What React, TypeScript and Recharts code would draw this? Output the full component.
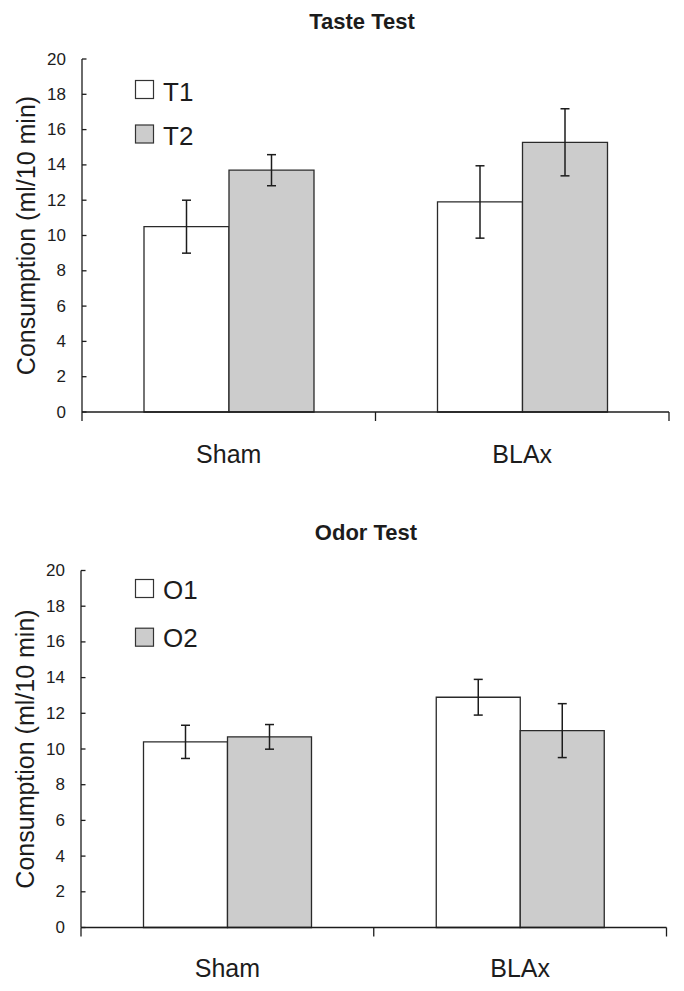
import React from 'react';
import { BarChart, Bar, XAxis, YAxis, ErrorBar, Legend } from 'recharts';

const categories = ['Sham', 'BLAx'];
const yTicks = [0, 2, 4, 6, 8, 10, 12, 14, 16, 18, 20];

const tasteSeriesNames = ['T1', 'T2'];
const tasteT1 = [10.5, 11.9];
const tasteT1Err = [1.5, 2.05];
const tasteT2 = [13.7, 15.28];
const tasteT2Err = [0.88, 1.9];

const odorSeriesNames = ['O1', 'O2'];
const odorO1 = [10.4, 12.9];
const odorO1Err = [0.93, 1.0];
const odorO2 = [10.68, 11.03];
const odorO2Err = [0.69, 1.51];

const FONT = '"Liberation Sans", Arial, Helvetica, sans-serif';
const INK = '#1c1c1c';
const GRAY = '#cccccc';

const tasteData = categories.map((c, i) => ({
  name: c,
  a: tasteT1[i],
  aErr: tasteT1Err[i],
  b: tasteT2[i],
  bErr: tasteT2Err[i],
}));

const odorData = categories.map((c, i) => ({
  name: c,
  a: odorO1[i],
  aErr: odorO1Err[i],
  b: odorO2[i],
  bErr: odorO2Err[i],
}));

type PanelProps = {
  top: number;
  title: string;
  titleX: number;
  titleY: number;
  data: any[];
  names: string[];
  marginTop: number;
  axisW: number;
  marginRight: number;
  xAxisH: number;
  catGap: number;
  labelBase: number;
  legendTop: number;
  legendStep: number;
  legendBase: number;
};

const W = 684;
const H = 480;

const YTick = (props: any) => {
  const { x, y, payload } = props;
  return (
    <g>
      <line x1={x} x2={x + 4.5} y1={y} y2={y} stroke={INK} strokeWidth={1.3} />
      <text
        x={x - 16}
        y={y}
        textAnchor="end"
        dominantBaseline="central"
        fontSize={17}
        fontFamily={FONT}
        fill={INK}
      >
        {payload.value}
      </text>
    </g>
  );
};

const makeXTick = (band: number, labelBase: number) => (props: any) => {
  const { x, y, payload, index } = props;
  const left = x - band / 2;
  const right = x + band / 2;
  return (
    <g>
      <line x1={left} x2={left} y1={y} y2={y + 9} stroke={INK} strokeWidth={1.3} />
      {index === categories.length - 1 ? (
        <line x1={right} x2={right} y1={y} y2={y + 9} stroke={INK} strokeWidth={1.3} />
      ) : null}
      <text x={x} y={y + labelBase} textAnchor="middle" fontSize={25} fontFamily={FONT} fill={INK}>
        {payload.value}
      </text>
    </g>
  );
};

const renderYLabel = (offsetX: number) => (p: any) => {
  const vb = p.viewBox || { x: 0, y: 0, width: 0, height: 0 };
  const cx = vb.x + offsetX;
  const cy = vb.y + vb.height / 2;
  return (
    <text
      x={cx}
      y={cy}
      transform={`rotate(-90 ${cx} ${cy})`}
      textAnchor="middle"
      dominantBaseline="central"
      fontSize={25}
      fontFamily={FONT}
      fill={INK}
    >
      Consumption (ml/10 min)
    </text>
  );
};

const makeLegend = (names: string[], step: number, base: number) => (props: any) => {
  const payload = props.payload || [];
  const fills = ['#ffffff', GRAY];
  return (
    <svg width={120} height={step + 30} style={{ display: 'block', overflow: 'visible' }}>
      {names.map((n, i) => {
        const entry = payload[i];
        const fill = entry && entry.payload && entry.payload.fill ? entry.payload.fill : fills[i];
        const label = entry && entry.value ? entry.value : n;
        return (
          <g key={n}>
            <rect x={0.5} y={0.5 + i * step} width={18} height={18} fill={fill} stroke="#333" strokeWidth={1.2} />
            <text x={28} y={base + i * step} fontSize={26} fontFamily={FONT} fill={INK}>
              {label}
            </text>
          </g>
        );
      })}
    </svg>
  );
};

const Panel = (p: PanelProps) => {
  const plotW = W - p.axisW - p.marginRight;
  const band = plotW / categories.length;
  return (
    <div style={{ position: 'absolute', left: 0, top: p.top, width: W, height: H }}>
      <div
        style={{
          position: 'absolute',
          left: p.titleX - 150,
          top: p.titleY - 14,
          width: 300,
          height: 28,
          lineHeight: '28px',
          textAlign: 'center',
          fontFamily: FONT,
          fontWeight: 'bold',
          fontSize: 22,
          color: INK,
          zIndex: 2,
        }}
      >
        {p.title}
      </div>
      <BarChart
        width={W}
        height={H}
        data={p.data}
        margin={{ top: p.marginTop, right: p.marginRight, left: 0, bottom: 0 }}
        barGap={0}
        barCategoryGap={p.catGap}
      >
        <XAxis
          dataKey="name"
          height={p.xAxisH}
          axisLine={{ stroke: INK, strokeWidth: 1.3 }}
          tickLine={false}
          tickSize={0}
          tickMargin={0}
          interval={0}
          tick={makeXTick(band, p.labelBase)}
        />
        <YAxis
          width={p.axisW}
          domain={[0, 20]}
          ticks={yTicks}
          interval={0}
          axisLine={{ stroke: INK, strokeWidth: 1.3 }}
          tickLine={false}
          tickSize={0}
          tickMargin={0}
          tick={YTick}
          label={{ content: renderYLabel(p.axisW - 56) } as any}
        />
        <Legend
          layout="vertical"
          align="center"
          verticalAlign="middle"
          wrapperStyle={{ position: 'absolute', left: 135, top: p.legendTop, width: 120 }}
          content={makeLegend(p.names, p.legendStep, p.legendBase)}
        />
        <Bar dataKey="a" name={p.names[0]} fill="#ffffff" stroke="#2a2a2a" strokeWidth={1.3} isAnimationActive={false}>
          <ErrorBar dataKey="aErr" direction="y" width={4.5} stroke={INK} strokeWidth={1.5} />
        </Bar>
        <Bar dataKey="b" name={p.names[1]} fill={GRAY} stroke="#2a2a2a" strokeWidth={1.3} isAnimationActive={false}>
          <ErrorBar dataKey="bErr" direction="y" width={4.5} stroke={INK} strokeWidth={1.5} />
        </Bar>
      </BarChart>
    </div>
  );
};

export default function App() {
  return (
    <div style={{ position: 'absolute', left: 0, top: 0, width: W, height: 991, background: '#ffffff' }}>
      <Panel
        top={0}
        title="Taste Test"
        titleX={362}
        titleY={22}
        data={tasteData}
        names={tasteSeriesNames}
        marginTop={59}
        axisW={82}
        marginRight={15}
        xAxisH={68}
        catGap={62}
        labelBase={51}
        legendTop={80}
        legendStep={44.5}
        legendBase={20.5}
      />
      <Panel
        top={510}
        title="Odor Test"
        titleX={366}
        titleY={23}
        data={odorData}
        names={odorSeriesNames}
        marginTop={60.5}
        axisW={81}
        marginRight={17.5}
        xAxisH={62.5}
        catGap={62.5}
        labelBase={49}
        legendTop={69}
        legendStep={48.7}
        legendBase={19.5}
      />
    </div>
  );
}
